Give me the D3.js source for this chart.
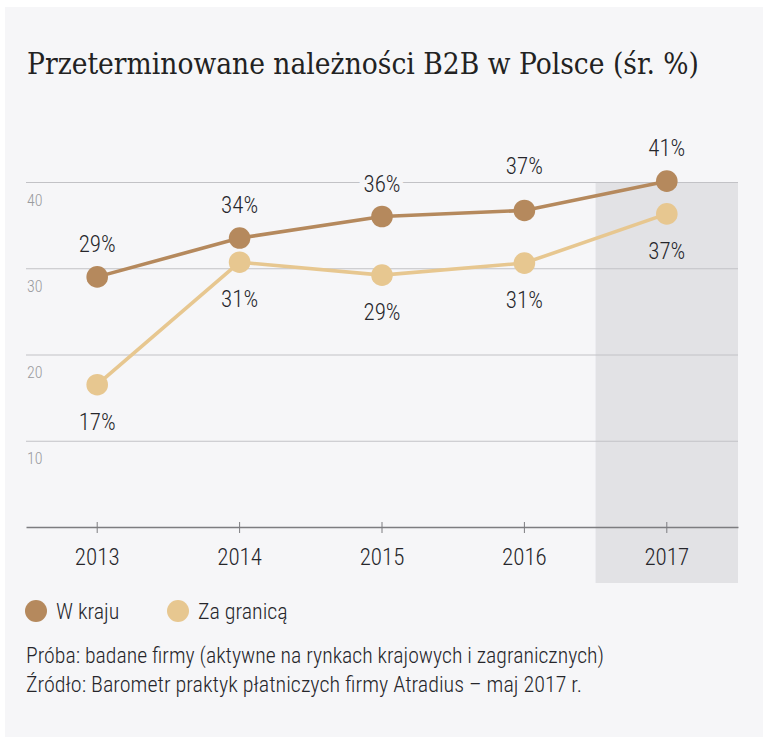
<!DOCTYPE html>
<html>
<head>
<meta charset="utf-8">
<script src="https://cdn.jsdelivr.net/npm/d3@7/dist/d3.min.js"></script>
<style>
  html, body { margin: 0; padding: 0; background: #ffffff; }
  svg { display: block; }
  .narrow { font-family: "Liberation Sans Narrow", "Arial Narrow", "Roboto Condensed", "Roboto", sans-serif; font-weight: 300; }
</style>
</head>
<body>
<svg id="chart" width="771" height="744"></svg>
<script>
// ---- data ----
const years = ["2013", "2014", "2015", "2016", "2017"];
const domesticValues = [29.0, 33.5, 36.0, 36.7, 40.1];
const domesticLabels = ["29%", "34%", "36%", "37%", "41%"];
const foreignValues = [16.5, 30.7, 29.2, 30.6, 36.3];
const foreignLabels = ["17%", "31%", "29%", "31%", "37%"];
const yTicks = [10, 20, 30, 40];
const seriesNames = ["W kraju", "Za granicą"];
const titleText = "Przeterminowane należności B2B w Polsce (śr. %)";
const noteLines = [
  "Próba: badane firmy (aktywne na rynkach krajowych i zagranicznych)",
  "Źródło: Barometr praktyk płatniczych firmy Atradius – maj 2017 r."
];
const highlightYear = "2017";

// ---- layout ----
const panelColor = "#f6f6f8";
const shadeColor = "#e2e2e5";
const colDomestic = "#b5895d";
const colForeign = "#e7c790";
const textColor = "#26262b";
const plotLeft = 26, plotRight = 738, plotTop = 182, plotBottom = 527;

const svg = d3.select("#chart");

svg.append("rect").attr("x", 5).attr("y", 7).attr("width", 758).attr("height", 730)
  .attr("fill", panelColor);

// title
svg.append("text")
  .attr("x", 27).attr("y", 74)
  .attr("font-family", "'DejaVu Serif', 'Liberation Serif', serif")
  .attr("font-stretch", "condensed")
  .attr("font-size", 29)
  .attr("fill", "#222")
  .attr("textLength", 672)
  .attr("lengthAdjust", "spacingAndGlyphs")
  .text(titleText);

const x = d3.scaleBand().domain(years).range([plotLeft, plotRight]).paddingInner(0).paddingOuter(0);
const cx = d => x(d) + x.bandwidth() / 2;
const y = d3.scaleLinear().domain([0, 40]).range([plotBottom, plotTop]);

// highlight band
svg.append("rect")
  .attr("x", x(highlightYear))
  .attr("y", y(40))
  .attr("width", x.bandwidth())
  .attr("height", 583 - y(40))
  .attr("fill", shadeColor);

// gridlines
const gy = svg.append("g").attr("transform", `translate(${plotLeft},0)`)
  .call(d3.axisRight(y).tickValues(yTicks).tickSize(plotRight - plotLeft).tickFormat(d3.format("d")));
gy.select(".domain").remove();
gy.selectAll(".tick line").attr("stroke", "#c2c2c6").attr("stroke-width", 1);
gy.selectAll(".tick text")
  .attr("class", "narrow")
  .attr("x", 1).attr("dy", 0).attr("y", 23)
  .attr("text-anchor", "start")
  .attr("font-size", 16)
  .attr("fill", "#9a9a9e");

// x axis
const gx = svg.append("g").attr("transform", `translate(0,${plotBottom})`)
  .call(d3.axisBottom(x).tickSizeInner(6).tickSizeOuter(0).tickPadding(16));
gx.select(".domain").attr("stroke", "#7d7d80").attr("stroke-width", 1.3);
gx.selectAll(".tick line").attr("y1", -5).attr("stroke", "#7d7d80").attr("stroke-width", 1);
gx.selectAll(".tick text")
  .attr("class", "narrow")
  .attr("font-size", 23)
  .attr("fill", textColor)
  .attr("dy", "0.71em");

// series
const series = [
  { vals: foreignValues, labels: foreignLabels, color: colForeign, above: false },
  { vals: domesticValues, labels: domesticLabels, color: colDomestic, above: true }
];
const line = d3.line().x((d, i) => cx(years[i])).y(d => y(d));

series.forEach(s => {
  svg.append("path").datum(s.vals)
    .attr("d", line).attr("fill", "none")
    .attr("stroke", s.color).attr("stroke-width", 3.6);
});
series.forEach(s => {
  svg.append("g").selectAll("circle").data(s.vals).join("circle")
    .attr("cx", (d, i) => cx(years[i])).attr("cy", d => y(d))
    .attr("r", 10.8).attr("fill", s.color);
});

// value labels
series.forEach(s => {
  svg.append("g").selectAll("text").data(s.vals).join("text")
    .attr("class", "narrow")
    .attr("x", (d, i) => cx(years[i]))
    .attr("y", (d, i) => s.above ? y(d) - (i === 3 ? 36 : 25) : y(d) + 45)
    .attr("text-anchor", "middle")
    .attr("font-size", 23)
    .attr("fill", textColor)
    .attr("stroke", (d, i) => (years[i] === highlightYear && !s.above) ? shadeColor : panelColor)
    .attr("stroke-width", 10)
    .attr("paint-order", "stroke")
    .text((d, i) => s.labels[i]);
});

// legend
const legend = svg.append("g");
const legendX = [36, 178];
seriesNames.forEach((n, i) => {
  legend.append("circle").attr("cx", legendX[i]).attr("cy", 611).attr("r", 11)
    .attr("fill", i === 0 ? colDomestic : colForeign);
  legend.append("text").attr("class", "narrow")
    .attr("x", legendX[i] + 20).attr("y", 619)
    .attr("font-size", 22).attr("fill", textColor).text(n);
});

// notes
const noteWidths = [578, 556];
noteLines.forEach((t, i) => {
  svg.append("text").attr("class", "narrow")
    .attr("x", 26).attr("y", 663 + i * 28.5)
    .attr("font-size", 22).attr("fill", textColor)
    .attr("textLength", noteWidths[i]).attr("lengthAdjust", "spacingAndGlyphs")
    .text(t);
});
</script>
</body>
</html>
